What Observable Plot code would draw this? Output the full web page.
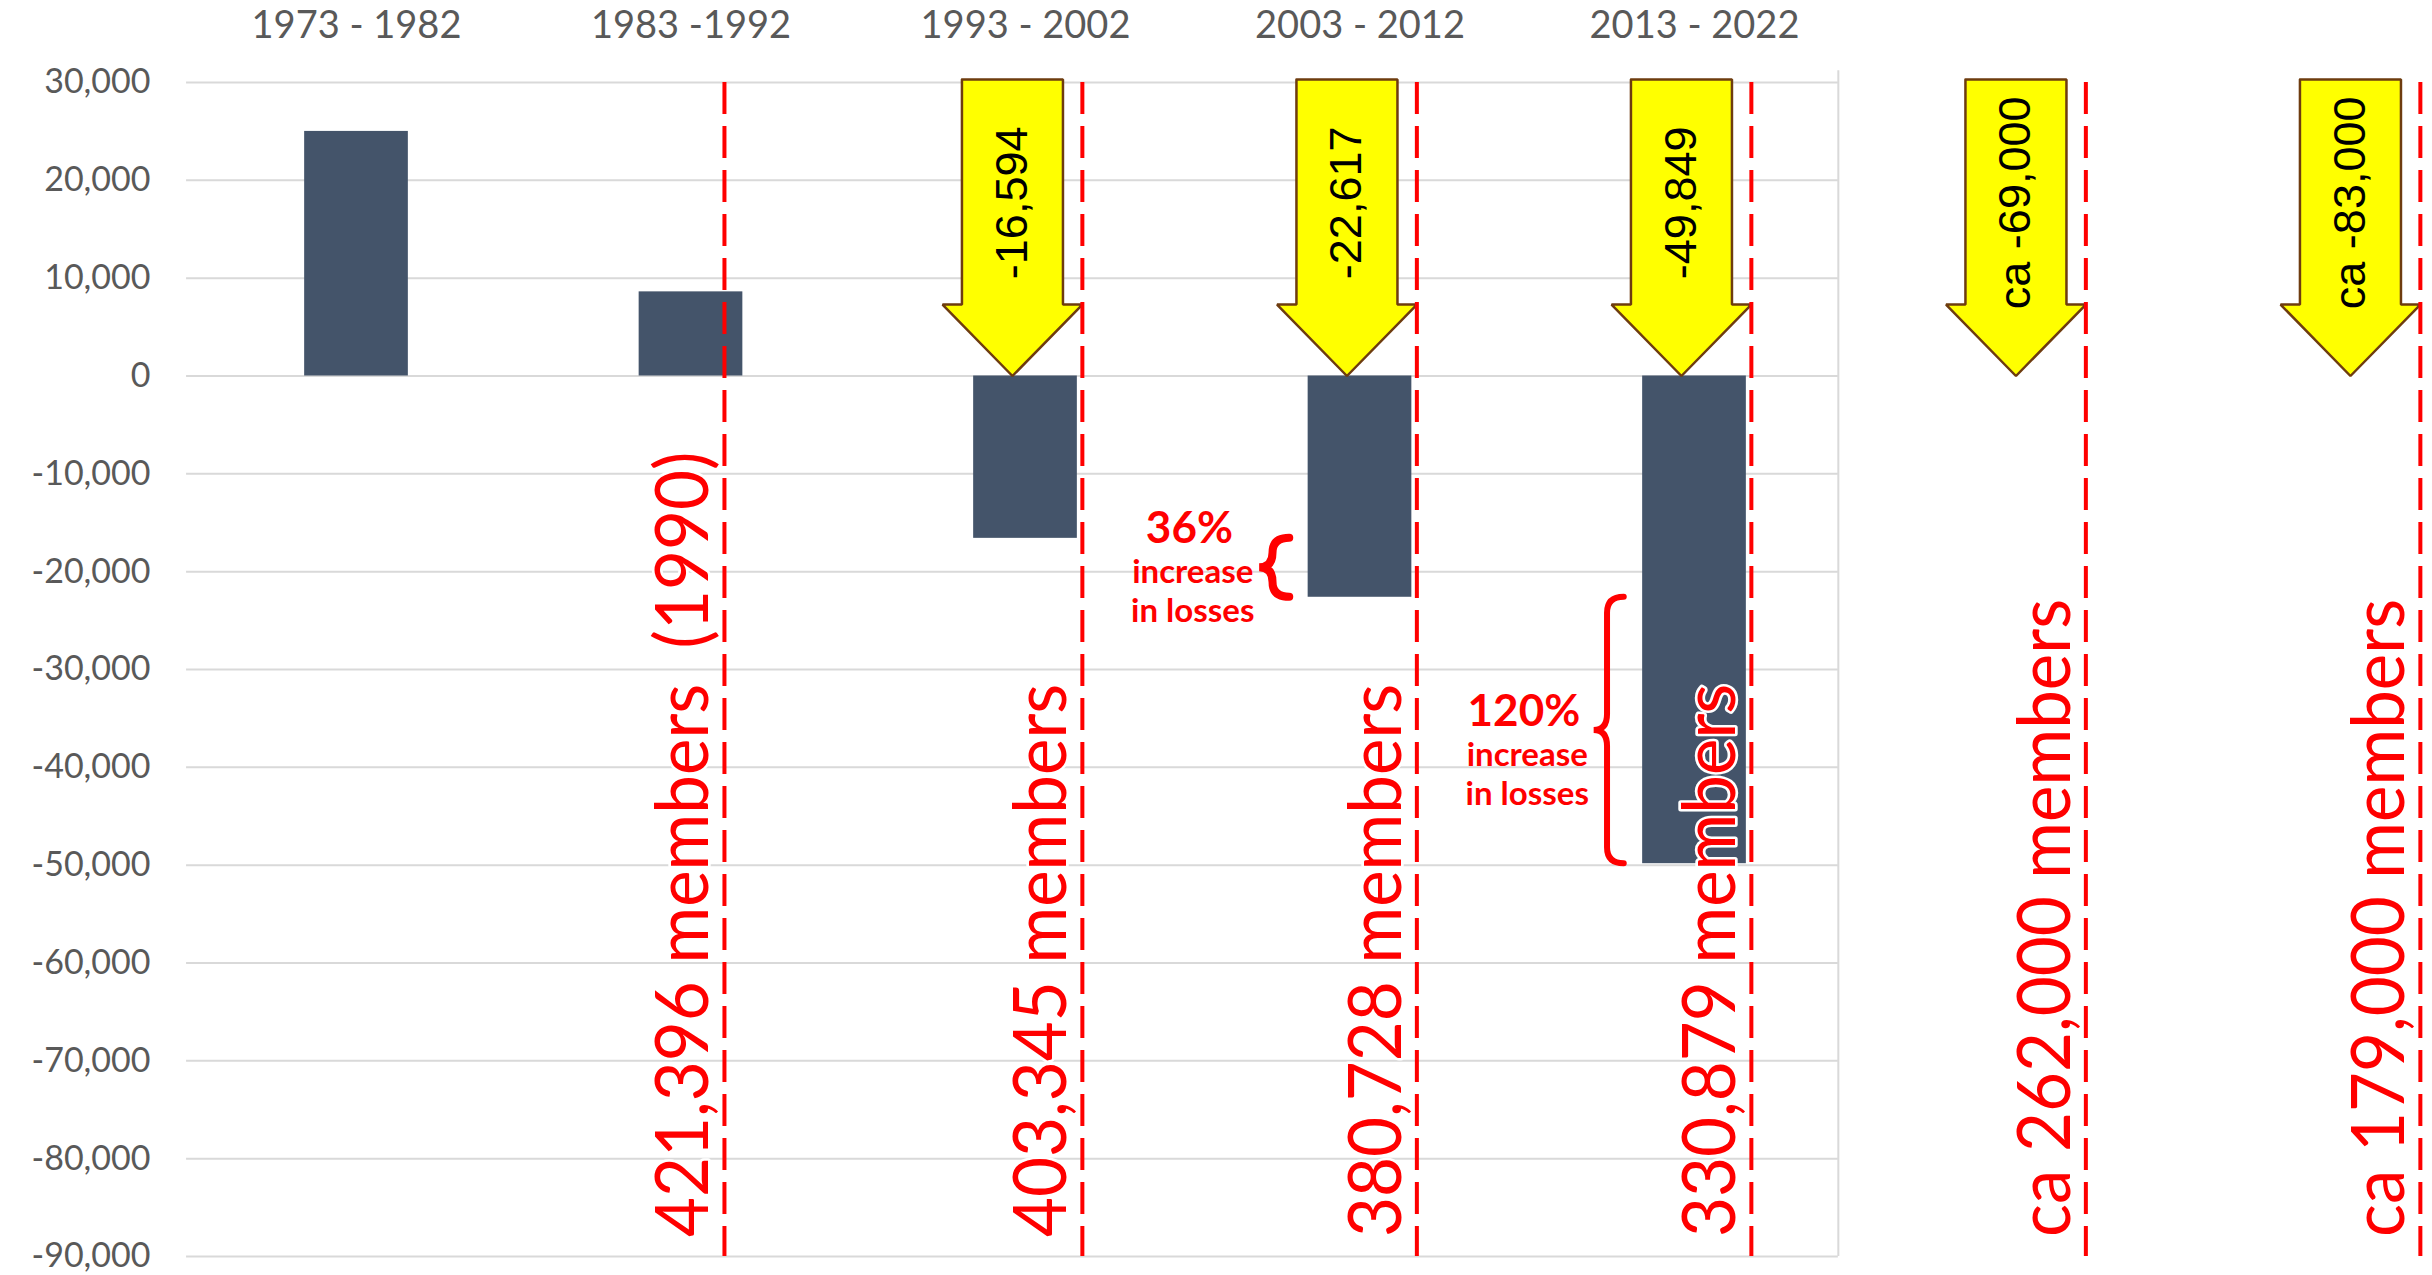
<!DOCTYPE html>
<html>
<head>
<meta charset="utf-8">
<script src="https://cdn.jsdelivr.net/npm/d3@7"></script>
<script src="https://cdn.jsdelivr.net/npm/@observablehq/plot@0.6"></script>
<style>
  html, body { margin: 0; padding: 0; background: #ffffff; }
  #chart svg { display: block; }
</style>
</head>
<body>
<div id="chart"></div>
<script>
// ---------------- data ----------------
const periods = ["1973 - 1982", "1983 -1992", "1993 - 2002", "2003 - 2012", "2013 - 2022"];
const memberChange = [25000, 8600, -16594, -22617, -49849];      // change per decade
const projectedChange = [-69000, -83000];                          // next two decades (estimates)
const memberCounts = [421396, 403345, 380728, 330879, 262000, 179000];
const memberApprox = [false, false, false, false, true, true];
const memberNote = ["(1990)", "", "", "", "", ""];
const yTicks = [30000, 20000, 10000, 0, -10000, -20000, -30000, -40000, -50000, -60000, -70000, -80000, -90000];
const increasePairs = [[2, 3], [3, 4]];                            // bar index pairs compared

// ---------------- layout constants ----------------
const fmt = v => v.toLocaleString("en-US");
const BAR_HALF = 0.155;
const PLOT_LEFT = -0.508, PLOT_RIGHT = 4.43;
const HEAD = 0.209, SHAFT = 0.151, HEAD_BASE = 7300, ARROW_TOP = 30300;
const lineOffset = i => (i === 0 ? 0.10 : 0.17);
const RED = "#ff0000";

// bars
const bars = memberChange.map((v, i) => ({i, value: v}));

// membership marker lines (after categories 1..6)
const markers = memberCounts.map((m, i) => ({
  x: i + 1 + lineOffset(i),
  label: (memberApprox[i] ? "ca " : "") + fmt(m) + " members" + (memberNote[i] ? "\u00a0\u00a0" + memberNote[i] : "")
}));

// arrows for categories 2..6
const arrowValues = memberChange.filter(v => v < 0).concat(projectedChange);
const arrows = arrowValues.map((v, k) => ({
  k,
  c: markers[k + 1].x - HEAD,
  label: (k >= 3 ? "ca " : "") + fmt(v)
}));
const arrowPts = arrows.flatMap(a => {
  const c = a.c;
  return [
    [c - SHAFT, ARROW_TOP], [c + SHAFT, ARROW_TOP], [c + SHAFT, HEAD_BASE], [c + HEAD, HEAD_BASE],
    [c, 0], [c - HEAD, HEAD_BASE], [c - SHAFT, HEAD_BASE], [c - SHAFT, ARROW_TOP]
  ].map(([x, y]) => ({k: a.k, x, y}));
});

// increase annotations
const increases = increasePairs.map(([a, b], j) => ({
  to: b,
  y1: memberChange[a],
  y2: memberChange[b],
  mid: (memberChange[a] + memberChange[b]) / 2,
  pct: Math.round((memberChange[b] / memberChange[a] - 1) * 100) + "%",
  shift: j === 0 ? 0 : 20,
  bw: j === 0 ? 8 : 6
}));

function braceMark(data) {
  return (index, scales) => {
    const g = d3.create("svg:g").attr("fill", "none").attr("stroke", RED).attr("stroke-linecap", "round");
    for (const b of data) {
      const xe = scales.x(b.to - 0.21), xs = scales.x(b.to - 0.26), xt = scales.x(b.to - 0.30);
      const y1 = scales.y(b.y1), y2 = scales.y(b.y2), ym = (y1 + y2) / 2;
      const r = Math.min(16, (y2 - y1) / 4);
      g.append("path")
        .attr("stroke-width", b.bw)
        .attr("d", `M${xe},${y1} Q${xs},${y1} ${xs},${y1 + r} L${xs},${ym - r} Q${xs},${ym} ${xt},${ym} Q${xs},${ym} ${xs},${ym + r} L${xs},${y2 - r} Q${xs},${y2} ${xe},${y2}`);
    }
    return g.node();
  };
}

const annotationMarks = increases.flatMap(a => [
  Plot.text([a], {x: d => d.to - 0.51, y: "mid", text: "pct", dy: -39 + a.shift, fontSize: 44, fontWeight: "bold", fill: RED, fontFamily: "Lato", lineAnchor: "middle"}),
  Plot.text([a], {x: d => d.to - 0.50, y: "mid", text: () => "increase", dy: 5 + a.shift, fontSize: 33, fontWeight: "bold", fill: RED, fontFamily: "Lato", lineAnchor: "middle"}),
  Plot.text([a], {x: d => d.to - 0.50, y: "mid", text: () => "in losses", dy: 44 + a.shift, fontSize: 33, fontWeight: "bold", fill: RED, fontFamily: "Lato", lineAnchor: "middle"})
]);

const chart = Plot.plot({
  width: 2432,
  height: 1275,
  marginLeft: 186,
  marginRight: 0,
  marginTop: 82,
  marginBottom: 19,
  style: {fontFamily: "Lato", background: "#ffffff"},
  x: {type: "linear", domain: [0, 6], range: [356, 2363], axis: null},
  y: {domain: [-90000, 30000], range: [1256, 82]},
  marks: [
    Plot.ruleY(yTicks, {x1: PLOT_LEFT, x2: PLOT_RIGHT, stroke: "#d9d9d9", strokeWidth: 2}),
    Plot.ruleX([PLOT_RIGHT], {y1: 31200, y2: -90000, stroke: "#d9d9d9", strokeWidth: 2}),
    Plot.axisY(yTicks, {tickFormat: fmt, tickSize: 0, tickPadding: 36, fontSize: 34, fill: "#595959", fontFamily: "Lato"}),
    Plot.text(periods, {x: (d, i) => i, y: 30000, dy: -57, text: d => d, fontSize: 38, fill: "#595959", fontFamily: "Lato", lineAnchor: "middle"}),
    Plot.rect(bars, {x1: d => d.i - BAR_HALF, x2: d => d.i + BAR_HALF, y1: 0, y2: "value", fill: "#44546a"}),
    Plot.line(arrowPts, {x: "x", y: "y", z: "k", fill: "#ffff00", stroke: "#6e3c0f", strokeWidth: 2.5, strokeLinejoin: "miter", curve: "linear"}),
    Plot.text(arrows, {x: "c", y: 17700, text: "label", rotate: -90, fontSize: 45, fill: "#000000", fontFamily: "Liberation Sans", textAnchor: "middle", lineAnchor: "middle"}),
    Plot.ruleX(markers, {x: "x", y1: 30000, y2: -90000, stroke: RED, strokeWidth: 4, strokeDasharray: "32,12"}),
    Plot.text(markers, {x: "x", y: -88000, text: "label", rotate: -90, dx: -16, fontSize: 69, fill: RED, stroke: "#ffffff", strokeWidth: 5, paintOrder: "stroke", fontFamily: "Lato", textAnchor: "start", lineAnchor: "bottom"}),
    braceMark(increases),
    ...annotationMarks
  ]
});

// widen rotated member labels slightly (glyph height across the page)
d3.select(chart).selectAll("g").filter(function () { return this.getAttribute("fill") === RED; })
  .selectAll("text").each(function () {
    const t = this.getAttribute("transform");
    if (t && t.includes("rotate(-90)")) this.setAttribute("transform", t + " scale(1,1.07)");
  });

document.getElementById("chart").appendChild(chart);
</script>
</body>
</html>
